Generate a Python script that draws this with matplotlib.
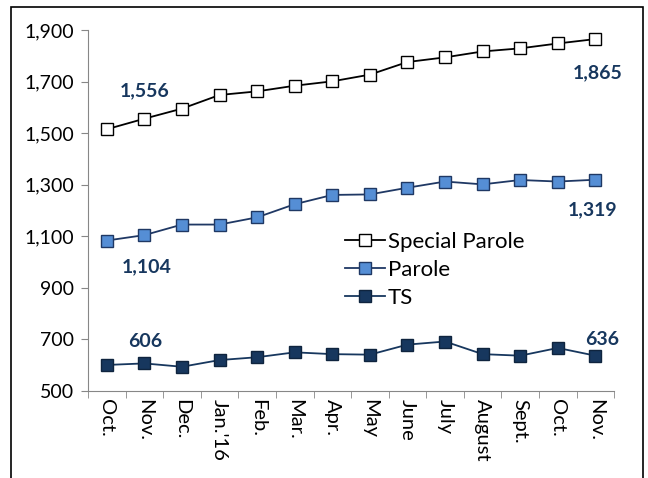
import matplotlib
matplotlib.use("Agg")
import matplotlib.pyplot as plt
from matplotlib.patches import Rectangle
from matplotlib.ticker import FuncFormatter, FixedLocator

plt.rcParams['font.family'] = ['Lato', 'DejaVu Sans']

# months on the x axis
months = ['Oct.', 'Nov.', 'Dec.', "Jan.'16", 'Feb.', 'Mar.', 'Apr.', 'May',
          'June', 'July', 'August', 'Sept.', 'Oct.', 'Nov.']
special_parole = [1515, 1556, 1595, 1648, 1662, 1684, 1701, 1727, 1776, 1794,
                  1817, 1829, 1848, 1865]
parole = [1083, 1104, 1145, 1145, 1173, 1224, 1260, 1262, 1288, 1312, 1301,
          1318, 1312, 1319]
ts = [600, 606, 593, 619, 630, 649, 642, 640, 679, 691, 642, 636, 666, 636]

label_color = '#17375E'
x = list(range(len(months)))

fig = plt.figure(figsize=(6.48, 4.78), dpi=100)
ax = fig.add_axes([0.1358, 0.1826, 0.812, 0.7545])

# outer frame
fig.patches.append(Rectangle((11 / 648, -0.02), (643 - 11) / 648, 1.02 - 6.5 / 478,
                             transform=fig.transFigure, fill=False,
                             edgecolor='black', linewidth=1.2))

ax.plot(x, special_parole, color='black', linewidth=1.3, marker='s',
        markersize=9, markerfacecolor='white', markeredgecolor='black',
        markeredgewidth=1.0, label='Special Parole')
ax.plot(x, parole, color='#1F3864', linewidth=1.3, marker='s',
        markersize=9, markerfacecolor='#558ED5', markeredgecolor='#1F3864',
        markeredgewidth=1.0, label='Parole')
ax.plot(x, ts, color='#17375E', linewidth=1.3, marker='s',
        markersize=9, markerfacecolor='#17375E', markeredgecolor='#0F243E',
        markeredgewidth=1.0, label='TS')

# data labels for first and last November
kw = dict(color=label_color, fontsize=14, fontweight='bold', ha='center',
          va='center', textcoords='offset pixels')
ax.annotate(f"{special_parole[1]:,}", (x[1], special_parole[1]), xytext=(0, 28), **kw)
ax.annotate(f"{special_parole[-1]:,}", (x[-1], special_parole[-1]), xytext=(2, -34), **kw)
ax.annotate(f"{parole[1]:,}", (x[1], parole[1]), xytext=(2, -32), **kw)
ax.annotate(f"{parole[-1]:,}", (x[-1], parole[-1]), xytext=(-3, -30), **kw)
ax.annotate(f"{ts[1]}", (x[1], ts[1]), xytext=(1, 22), **kw)
ax.annotate(f"{ts[-1]}", (x[-1], ts[-1]), xytext=(7, 16), **kw)

ax.set_xlim(-0.5, len(months) - 0.5)
ax.set_ylim(500, 1900)
ax.set_yticks(range(500, 1901, 200))
ax.yaxis.set_major_formatter(FuncFormatter(lambda v, p: f"{int(v):,}"))

ax.set_xticks(x)
ax.set_xticklabels(months, rotation=-90, fontsize=14.5)
ax.xaxis.set_minor_locator(FixedLocator([i - 0.5 for i in range(len(months) + 1)]))
ax.tick_params(axis='x', which='major', length=0, pad=6)
ax.tick_params(axis='x', which='minor', length=5, color='#878787', direction='out')
ax.tick_params(axis='y', length=5, color='#878787', labelsize=14, pad=5)

for s in ['top', 'right']:
    ax.spines[s].set_visible(False)
for s in ['left', 'bottom']:
    ax.spines[s].set_color('#878787')

ax.legend(loc='center left', bbox_to_anchor=(0.489, 0.335), frameon=False,
          fontsize=16, handlelength=1.8, handletextpad=0.1, labelspacing=0.36,
          borderaxespad=0, borderpad=0)

fig.savefig('out.png', dpi=100)
